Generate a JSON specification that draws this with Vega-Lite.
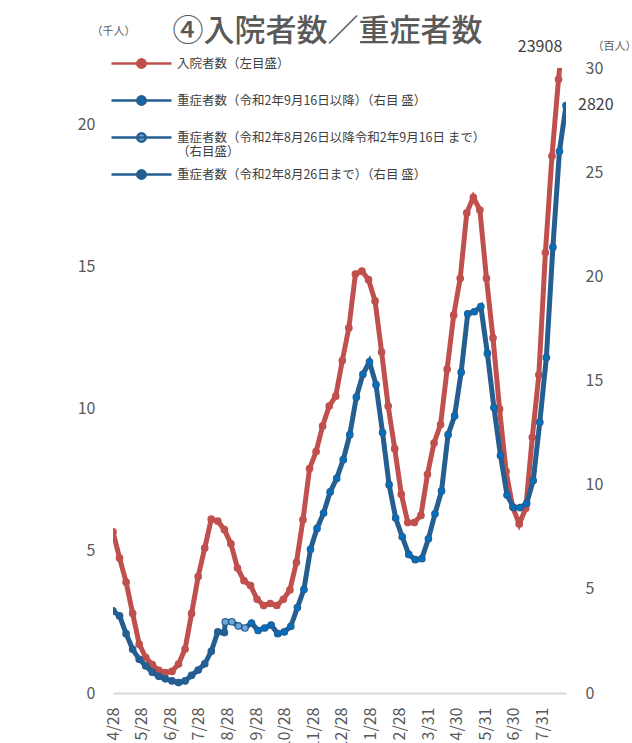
{
  "$schema": "https://vega.github.io/schema/vega-lite/v6.json",
  "width": 453,
  "height": 625,
  "autosize": {"type": "none"},
  "padding": {"left": 113, "top": 68, "right": 66, "bottom": 50},
  "background": "white",
  "title": {"text": "④入院者数／重症者数", "font": "Noto Sans CJK JP", "fontSize": 31, "fontWeight": 500, "color": "#595959", "anchor": "middle", "dx": -12, "offset": -23},
  "datasets": {
    "red": [
      {"date": "2020-04-28", "value": 5.67, "series": "入院者数（左目盛）"},
      {"date": "2020-05-05", "value": 4.75, "series": "入院者数（左目盛）"},
      {"date": "2020-05-12", "value": 3.9, "series": "入院者数（左目盛）"},
      {"date": "2020-05-19", "value": 2.8, "series": "入院者数（左目盛）"},
      {"date": "2020-05-26", "value": 1.72, "series": "入院者数（左目盛）"},
      {"date": "2020-06-02", "value": 1.25, "series": "入院者数（左目盛）"},
      {"date": "2020-06-09", "value": 1.0, "series": "入院者数（左目盛）"},
      {"date": "2020-06-16", "value": 0.8, "series": "入院者数（左目盛）"},
      {"date": "2020-06-23", "value": 0.72, "series": "入院者数（左目盛）"},
      {"date": "2020-06-30", "value": 0.76, "series": "入院者数（左目盛）"},
      {"date": "2020-07-07", "value": 1.02, "series": "入院者数（左目盛）"},
      {"date": "2020-07-14", "value": 1.55, "series": "入院者数（左目盛）"},
      {"date": "2020-07-21", "value": 2.8, "series": "入院者数（左目盛）"},
      {"date": "2020-07-28", "value": 4.1, "series": "入院者数（左目盛）"},
      {"date": "2020-08-04", "value": 5.1, "series": "入院者数（左目盛）"},
      {"date": "2020-08-11", "value": 6.12, "series": "入院者数（左目盛）"},
      {"date": "2020-08-18", "value": 6.05, "series": "入院者数（左目盛）"},
      {"date": "2020-08-25", "value": 5.75, "series": "入院者数（左目盛）"},
      {"date": "2020-09-01", "value": 5.25, "series": "入院者数（左目盛）"},
      {"date": "2020-09-08", "value": 4.4, "series": "入院者数（左目盛）"},
      {"date": "2020-09-15", "value": 3.95, "series": "入院者数（左目盛）"},
      {"date": "2020-09-22", "value": 3.78, "series": "入院者数（左目盛）"},
      {"date": "2020-09-29", "value": 3.3, "series": "入院者数（左目盛）"},
      {"date": "2020-10-06", "value": 3.08, "series": "入院者数（左目盛）"},
      {"date": "2020-10-13", "value": 3.15, "series": "入院者数（左目盛）"},
      {"date": "2020-10-20", "value": 3.08, "series": "入院者数（左目盛）"},
      {"date": "2020-10-27", "value": 3.3, "series": "入院者数（左目盛）"},
      {"date": "2020-11-03", "value": 3.63, "series": "入院者数（左目盛）"},
      {"date": "2020-11-10", "value": 4.6, "series": "入院者数（左目盛）"},
      {"date": "2020-11-17", "value": 6.1, "series": "入院者数（左目盛）"},
      {"date": "2020-11-24", "value": 7.9, "series": "入院者数（左目盛）"},
      {"date": "2020-12-01", "value": 8.5, "series": "入院者数（左目盛）"},
      {"date": "2020-12-08", "value": 9.4, "series": "入院者数（左目盛）"},
      {"date": "2020-12-15", "value": 10.1, "series": "入院者数（左目盛）"},
      {"date": "2020-12-22", "value": 10.45, "series": "入院者数（左目盛）"},
      {"date": "2020-12-29", "value": 11.7, "series": "入院者数（左目盛）"},
      {"date": "2021-01-05", "value": 12.85, "series": "入院者数（左目盛）"},
      {"date": "2021-01-12", "value": 14.75, "series": "入院者数（左目盛）"},
      {"date": "2021-01-19", "value": 14.85, "series": "入院者数（左目盛）"},
      {"date": "2021-01-26", "value": 14.55, "series": "入院者数（左目盛）"},
      {"date": "2021-02-02", "value": 13.8, "series": "入院者数（左目盛）"},
      {"date": "2021-02-09", "value": 12.0, "series": "入院者数（左目盛）"},
      {"date": "2021-02-16", "value": 10.1, "series": "入院者数（左目盛）"},
      {"date": "2021-02-23", "value": 8.6, "series": "入院者数（左目盛）"},
      {"date": "2021-03-02", "value": 7.0, "series": "入院者数（左目盛）"},
      {"date": "2021-03-09", "value": 6.0, "series": "入院者数（左目盛）"},
      {"date": "2021-03-16", "value": 6.0, "series": "入院者数（左目盛）"},
      {"date": "2021-03-23", "value": 6.25, "series": "入院者数（左目盛）"},
      {"date": "2021-03-30", "value": 7.7, "series": "入院者数（左目盛）"},
      {"date": "2021-04-06", "value": 8.8, "series": "入院者数（左目盛）"},
      {"date": "2021-04-13", "value": 9.45, "series": "入院者数（左目盛）"},
      {"date": "2021-04-20", "value": 11.4, "series": "入院者数（左目盛）"},
      {"date": "2021-04-27", "value": 13.3, "series": "入院者数（左目盛）"},
      {"date": "2021-05-04", "value": 14.6, "series": "入院者数（左目盛）"},
      {"date": "2021-05-11", "value": 16.9, "series": "入院者数（左目盛）"},
      {"date": "2021-05-18", "value": 17.45, "series": "入院者数（左目盛）"},
      {"date": "2021-05-25", "value": 17.0, "series": "入院者数（左目盛）"},
      {"date": "2021-06-01", "value": 14.6, "series": "入院者数（左目盛）"},
      {"date": "2021-06-08", "value": 12.5, "series": "入院者数（左目盛）"},
      {"date": "2021-06-15", "value": 10.0, "series": "入院者数（左目盛）"},
      {"date": "2021-06-22", "value": 7.8, "series": "入院者数（左目盛）"},
      {"date": "2021-06-29", "value": 6.55, "series": "入院者数（左目盛）"},
      {"date": "2021-07-06", "value": 5.95, "series": "入院者数（左目盛）"},
      {"date": "2021-07-13", "value": 6.5, "series": "入院者数（左目盛）"},
      {"date": "2021-07-20", "value": 9.0, "series": "入院者数（左目盛）"},
      {"date": "2021-07-27", "value": 11.2, "series": "入院者数（左目盛）"},
      {"date": "2021-08-03", "value": 15.5, "series": "入院者数（左目盛）"},
      {"date": "2021-08-10", "value": 18.9, "series": "入院者数（左目盛）"},
      {"date": "2021-08-17", "value": 21.6, "series": "入院者数（左目盛）"},
      {"date": "2021-08-24", "value": 23.908, "series": "入院者数（左目盛）"}
    ],
    "blue": [
      {"date": "2020-04-28", "value": 3.94, "series": "重症者数（令和2年8月26日まで）（右目 盛）"},
      {"date": "2020-05-05", "value": 3.7, "series": "重症者数（令和2年8月26日まで）（右目 盛）"},
      {"date": "2020-05-12", "value": 2.85, "series": "重症者数（令和2年8月26日まで）（右目 盛）"},
      {"date": "2020-05-19", "value": 2.1, "series": "重症者数（令和2年8月26日まで）（右目 盛）"},
      {"date": "2020-05-26", "value": 1.62, "series": "重症者数（令和2年8月26日まで）（右目 盛）"},
      {"date": "2020-06-02", "value": 1.3, "series": "重症者数（令和2年8月26日まで）（右目 盛）"},
      {"date": "2020-06-09", "value": 1.0, "series": "重症者数（令和2年8月26日まで）（右目 盛）"},
      {"date": "2020-06-16", "value": 0.8, "series": "重症者数（令和2年8月26日まで）（右目 盛）"},
      {"date": "2020-06-23", "value": 0.68, "series": "重症者数（令和2年8月26日まで）（右目 盛）"},
      {"date": "2020-06-30", "value": 0.58, "series": "重症者数（令和2年8月26日まで）（右目 盛）"},
      {"date": "2020-07-07", "value": 0.5, "series": "重症者数（令和2年8月26日まで）（右目 盛）"},
      {"date": "2020-07-14", "value": 0.58, "series": "重症者数（令和2年8月26日まで）（右目 盛）"},
      {"date": "2020-07-21", "value": 0.85, "series": "重症者数（令和2年8月26日まで）（右目 盛）"},
      {"date": "2020-07-28", "value": 1.1, "series": "重症者数（令和2年8月26日まで）（右目 盛）"},
      {"date": "2020-08-04", "value": 1.4, "series": "重症者数（令和2年8月26日まで）（右目 盛）"},
      {"date": "2020-08-11", "value": 2.0, "series": "重症者数（令和2年8月26日まで）（右目 盛）"},
      {"date": "2020-08-18", "value": 2.93, "series": "重症者数（令和2年8月26日まで）（右目 盛）"},
      {"date": "2020-08-25", "value": 2.9, "series": "重症者数（令和2年8月26日まで）（右目 盛）"},
      {"date": "2020-08-26", "value": 3.41, "series": "重症者数（令和2年8月26日以降令和2年9月16日 まで）（右目盛）"},
      {"date": "2020-09-02", "value": 3.42, "series": "重症者数（令和2年8月26日以降令和2年9月16日 まで）（右目盛）"},
      {"date": "2020-09-09", "value": 3.22, "series": "重症者数（令和2年8月26日以降令和2年9月16日 まで）（右目盛）"},
      {"date": "2020-09-16", "value": 3.12, "series": "重症者数（令和2年8月26日以降令和2年9月16日 まで）（右目盛）"},
      {"date": "2020-09-23", "value": 3.36, "series": "重症者数（令和2年9月16日以降）（右目 盛）"},
      {"date": "2020-09-30", "value": 3.0, "series": "重症者数（令和2年9月16日以降）（右目 盛）"},
      {"date": "2020-10-07", "value": 3.12, "series": "重症者数（令和2年9月16日以降）（右目 盛）"},
      {"date": "2020-10-14", "value": 3.26, "series": "重症者数（令和2年9月16日以降）（右目 盛）"},
      {"date": "2020-10-21", "value": 2.85, "series": "重症者数（令和2年9月16日以降）（右目 盛）"},
      {"date": "2020-10-28", "value": 2.93, "series": "重症者数（令和2年9月16日以降）（右目 盛）"},
      {"date": "2020-11-04", "value": 3.2, "series": "重症者数（令和2年9月16日以降）（右目 盛）"},
      {"date": "2020-11-11", "value": 4.1, "series": "重症者数（令和2年9月16日以降）（右目 盛）"},
      {"date": "2020-11-18", "value": 4.97, "series": "重症者数（令和2年9月16日以降）（右目 盛）"},
      {"date": "2020-11-25", "value": 6.9, "series": "重症者数（令和2年9月16日以降）（右目 盛）"},
      {"date": "2020-12-02", "value": 7.9, "series": "重症者数（令和2年9月16日以降）（右目 盛）"},
      {"date": "2020-12-09", "value": 8.64, "series": "重症者数（令和2年9月16日以降）（右目 盛）"},
      {"date": "2020-12-16", "value": 9.65, "series": "重症者数（令和2年9月16日以降）（右目 盛）"},
      {"date": "2020-12-23", "value": 10.3, "series": "重症者数（令和2年9月16日以降）（右目 盛）"},
      {"date": "2020-12-30", "value": 11.2, "series": "重症者数（令和2年9月16日以降）（右目 盛）"},
      {"date": "2021-01-06", "value": 12.4, "series": "重症者数（令和2年9月16日以降）（右目 盛）"},
      {"date": "2021-01-13", "value": 14.2, "series": "重症者数（令和2年9月16日以降）（右目 盛）"},
      {"date": "2021-01-20", "value": 15.3, "series": "重症者数（令和2年9月16日以降）（右目 盛）"},
      {"date": "2021-01-27", "value": 15.9, "series": "重症者数（令和2年9月16日以降）（右目 盛）"},
      {"date": "2021-02-03", "value": 14.8, "series": "重症者数（令和2年9月16日以降）（右目 盛）"},
      {"date": "2021-02-10", "value": 12.5, "series": "重症者数（令和2年9月16日以降）（右目 盛）"},
      {"date": "2021-02-17", "value": 10.0, "series": "重症者数（令和2年9月16日以降）（右目 盛）"},
      {"date": "2021-02-24", "value": 8.4, "series": "重症者数（令和2年9月16日以降）（右目 盛）"},
      {"date": "2021-03-03", "value": 7.5, "series": "重症者数（令和2年9月16日以降）（右目 盛）"},
      {"date": "2021-03-10", "value": 6.65, "series": "重症者数（令和2年9月16日以降）（右目 盛）"},
      {"date": "2021-03-17", "value": 6.4, "series": "重症者数（令和2年9月16日以降）（右目 盛）"},
      {"date": "2021-03-24", "value": 6.45, "series": "重症者数（令和2年9月16日以降）（右目 盛）"},
      {"date": "2021-03-31", "value": 7.4, "series": "重症者数（令和2年9月16日以降）（右目 盛）"},
      {"date": "2021-04-07", "value": 8.6, "series": "重症者数（令和2年9月16日以降）（右目 盛）"},
      {"date": "2021-04-14", "value": 9.7, "series": "重症者数（令和2年9月16日以降）（右目 盛）"},
      {"date": "2021-04-21", "value": 12.4, "series": "重症者数（令和2年9月16日以降）（右目 盛）"},
      {"date": "2021-04-28", "value": 13.3, "series": "重症者数（令和2年9月16日以降）（右目 盛）"},
      {"date": "2021-05-05", "value": 15.4, "series": "重症者数（令和2年9月16日以降）（右目 盛）"},
      {"date": "2021-05-12", "value": 18.2, "series": "重症者数（令和2年9月16日以降）（右目 盛）"},
      {"date": "2021-05-19", "value": 18.3, "series": "重症者数（令和2年9月16日以降）（右目 盛）"},
      {"date": "2021-05-26", "value": 18.55, "series": "重症者数（令和2年9月16日以降）（右目 盛）"},
      {"date": "2021-06-02", "value": 16.3, "series": "重症者数（令和2年9月16日以降）（右目 盛）"},
      {"date": "2021-06-09", "value": 13.7, "series": "重症者数（令和2年9月16日以降）（右目 盛）"},
      {"date": "2021-06-16", "value": 11.4, "series": "重症者数（令和2年9月16日以降）（右目 盛）"},
      {"date": "2021-06-23", "value": 9.5, "series": "重症者数（令和2年9月16日以降）（右目 盛）"},
      {"date": "2021-06-30", "value": 8.9, "series": "重症者数（令和2年9月16日以降）（右目 盛）"},
      {"date": "2021-07-07", "value": 8.9, "series": "重症者数（令和2年9月16日以降）（右目 盛）"},
      {"date": "2021-07-14", "value": 9.1, "series": "重症者数（令和2年9月16日以降）（右目 盛）"},
      {"date": "2021-07-21", "value": 10.2, "series": "重症者数（令和2年9月16日以降）（右目 盛）"},
      {"date": "2021-07-28", "value": 13.0, "series": "重症者数（令和2年9月16日以降）（右目 盛）"},
      {"date": "2021-08-04", "value": 16.1, "series": "重症者数（令和2年9月16日以降）（右目 盛）"},
      {"date": "2021-08-11", "value": 21.4, "series": "重症者数（令和2年9月16日以降）（右目 盛）"},
      {"date": "2021-08-18", "value": 26.0, "series": "重症者数（令和2年9月16日以降）（右目 盛）"},
      {"date": "2021-08-25", "value": 28.2, "series": "重症者数（令和2年9月16日以降）（右目 盛）"}
    ]
  },
  "encoding": {
    "x": {
      "field": "date",
      "type": "temporal",
      "scale": {"type": "utc", "domain": [{"year": 2020, "month": 4, "date": 28, "utc": true}, {"year": 2021, "month": 8, "date": 25, "utc": true}]},
      "axis": {
        "title": null,
        "values": [
          {"year": 2020, "month": 4, "date": 28, "utc": true},
          {"year": 2020, "month": 5, "date": 28, "utc": true},
          {"year": 2020, "month": 6, "date": 28, "utc": true},
          {"year": 2020, "month": 7, "date": 28, "utc": true},
          {"year": 2020, "month": 8, "date": 28, "utc": true},
          {"year": 2020, "month": 9, "date": 28, "utc": true},
          {"year": 2020, "month": 10, "date": 28, "utc": true},
          {"year": 2020, "month": 11, "date": 28, "utc": true},
          {"year": 2020, "month": 12, "date": 28, "utc": true},
          {"year": 2021, "month": 1, "date": 28, "utc": true},
          {"year": 2021, "month": 2, "date": 28, "utc": true},
          {"year": 2021, "month": 3, "date": 31, "utc": true},
          {"year": 2021, "month": 4, "date": 30, "utc": true},
          {"year": 2021, "month": 5, "date": 31, "utc": true},
          {"year": 2021, "month": 6, "date": 30, "utc": true},
          {"year": 2021, "month": 7, "date": 31, "utc": true}
        ],
        "labelExpr": "utcFormat(datum.value, '%-m/%-d')",
        "labelAngle": 270,
        "labelFont": "Noto Sans CJK JP",
        "labelFontSize": 16,
        "labelColor": "#595959",
        "labelPadding": 14,
        "labelOverlap": false,
        "labelFlush": false,
        "labelBound": false,
        "ticks": false,
        "grid": false,
        "domainColor": "#D9D9D9",
        "domainWidth": 2
      }
    }
  },
  "layer": [
    {
      "data": {"name": "red"},
      "encoding": {
        "y": {
          "field": "value",
          "type": "quantitative",
          "scale": {"domain": [0, 22], "nice": false, "zero": true},
          "axis": {"orient": "left", "values": [0, 5, 10, 15, 20], "title": "（千人）", "titleAngle": 0, "titleX": 0, "titleY": -37, "titleAlign": "center", "titleBaseline": "middle", "titleFont": "Noto Sans CJK JP", "titleFontSize": 11, "titleFontWeight": "normal", "titleColor": "#595959", "domain": false, "ticks": false, "grid": false, "labelPadding": 18, "labelFont": "Noto Sans CJK JP", "labelFontSize": 16, "labelColor": "#595959"}
        }
      },
      "layer": [
        {"mark": {"type": "line", "color": "#C0504D", "strokeWidth": 5, "clip": true}},
        {
          "mark": {"type": "circle", "size": 42, "opacity": 1, "strokeWidth": 1.2, "clip": true},
          "encoding": {
            "fill": {"field": "series", "type": "nominal",
              "scale": {"domain": ["入院者数（左目盛）", "重症者数（令和2年9月16日以降）（右目 盛）", "重症者数（令和2年8月26日以降令和2年9月16日 まで）（右目盛）", "重症者数（令和2年8月26日まで）（右目 盛）"], "range": ["#C0504D", "#0070C0", "#6FA8DC", "#255E91"]},
              "legend": {"title": null, "orient": "none", "legendX": -3, "legendY": -16, "symbolType": "M-3,0L3,0M0.42,0A0.42,0.42,0,1,1,-0.42,0A0.42,0.42,0,1,1,0.42,0Z", "symbolSize": 400, "symbolOffset": 20, "symbolStrokeWidth": 2.5, "labelFont": "Noto Sans CJK JP", "labelFontSize": 12.5, "labelColor": "#404040", "labelOffset": 24, "rowPadding": 4, "labelLimit": 600,
                "labelExpr": "datum.label == '重症者数（令和2年8月26日以降令和2年9月16日 まで）（右目盛）' ? ['重症者数（令和2年8月26日以降令和2年9月16日 まで）', '（右目盛）'] : [datum.label, '']"}
            },
            "stroke": {"field": "series", "type": "nominal",
              "scale": {"domain": ["入院者数（左目盛）", "重症者数（令和2年9月16日以降）（右目 盛）", "重症者数（令和2年8月26日以降令和2年9月16日 まで）（右目盛）", "重症者数（令和2年8月26日まで）（右目 盛）"], "range": ["#C0504D", "#255E91", "#255E91", "#255E91"]},
              "legend": {"title": null, "orient": "none", "legendX": -3, "legendY": -16, "symbolType": "M-3,0L3,0M0.42,0A0.42,0.42,0,1,1,-0.42,0A0.42,0.42,0,1,1,0.42,0Z", "symbolSize": 400, "symbolOffset": 20, "symbolStrokeWidth": 2.5, "labelFont": "Noto Sans CJK JP", "labelFontSize": 12.5, "labelColor": "#404040", "labelOffset": 24, "rowPadding": 4, "labelLimit": 600,
                "labelExpr": "datum.label == '重症者数（令和2年8月26日以降令和2年9月16日 まで）（右目盛）' ? ['重症者数（令和2年8月26日以降令和2年9月16日 まで）', '（右目盛）'] : [datum.label, '']"}
            }
          }
        },
        {
          "transform": [{"filter": "datum.value > 23"}, {"calculate": "format(datum.value * 1000, 'd')", "as": "lbl"}],
          "mark": {"type": "text", "dx": -25, "dy": 33, "align": "center", "baseline": "middle", "font": "Noto Sans CJK JP", "fontSize": 16, "color": "#404040"},
          "encoding": {"text": {"field": "lbl", "type": "nominal"}}
        }
      ]
    },
    {
      "data": {"name": "blue"},
      "encoding": {
        "y": {
          "field": "value",
          "type": "quantitative",
          "scale": {"domain": [0, 30], "nice": false, "zero": true},
          "axis": {"orient": "right", "values": [0, 5, 10, 15, 20, 25, 30], "title": "（百人）", "titleAngle": 0, "titleX": 48, "titleY": -22, "titleAlign": "center", "titleBaseline": "middle", "titleFont": "Noto Sans CJK JP", "titleFontSize": 11, "titleFontWeight": "normal", "titleColor": "#595959", "domain": false, "ticks": false, "grid": false, "labelPadding": 19, "labelFont": "Noto Sans CJK JP", "labelFontSize": 16, "labelColor": "#595959"}
        }
      },
      "layer": [
        {"mark": {"type": "line", "color": "#255E91", "strokeWidth": 5, "clip": true}},
        {
          "mark": {"type": "circle", "size": 42, "opacity": 1, "strokeWidth": 1.2, "clip": true},
          "encoding": {
            "fill": {"field": "series", "type": "nominal",
              "scale": {"domain": ["入院者数（左目盛）", "重症者数（令和2年9月16日以降）（右目 盛）", "重症者数（令和2年8月26日以降令和2年9月16日 まで）（右目盛）", "重症者数（令和2年8月26日まで）（右目 盛）"], "range": ["#C0504D", "#0070C0", "#6FA8DC", "#255E91"]},
              "legend": {"title": null, "orient": "none", "legendX": -3, "legendY": -16, "symbolType": "M-3,0L3,0M0.42,0A0.42,0.42,0,1,1,-0.42,0A0.42,0.42,0,1,1,0.42,0Z", "symbolSize": 400, "symbolOffset": 20, "symbolStrokeWidth": 2.5, "labelFont": "Noto Sans CJK JP", "labelFontSize": 12.5, "labelColor": "#404040", "labelOffset": 24, "rowPadding": 4, "labelLimit": 600,
                "labelExpr": "datum.label == '重症者数（令和2年8月26日以降令和2年9月16日 まで）（右目盛）' ? ['重症者数（令和2年8月26日以降令和2年9月16日 まで）', '（右目盛）'] : [datum.label, '']"}
            },
            "stroke": {"field": "series", "type": "nominal",
              "scale": {"domain": ["入院者数（左目盛）", "重症者数（令和2年9月16日以降）（右目 盛）", "重症者数（令和2年8月26日以降令和2年9月16日 まで）（右目盛）", "重症者数（令和2年8月26日まで）（右目 盛）"], "range": ["#C0504D", "#255E91", "#255E91", "#255E91"]},
              "legend": {"title": null, "orient": "none", "legendX": -3, "legendY": -16, "symbolType": "M-3,0L3,0M0.42,0A0.42,0.42,0,1,1,-0.42,0A0.42,0.42,0,1,1,0.42,0Z", "symbolSize": 400, "symbolOffset": 20, "symbolStrokeWidth": 2.5, "labelFont": "Noto Sans CJK JP", "labelFontSize": 12.5, "labelColor": "#404040", "labelOffset": 24, "rowPadding": 4, "labelLimit": 600,
                "labelExpr": "datum.label == '重症者数（令和2年8月26日以降令和2年9月16日 まで）（右目盛）' ? ['重症者数（令和2年8月26日以降令和2年9月16日 まで）', '（右目盛）'] : [datum.label, '']"}
            }
          }
        },
        {
          "transform": [{"filter": "datum.value > 28"}, {"calculate": "format(datum.value * 100, 'd')", "as": "lbl"}],
          "mark": {"type": "text", "dx": 12, "dy": -1, "align": "left", "baseline": "middle", "font": "Noto Sans CJK JP", "fontSize": 16, "color": "#404040"},
          "encoding": {"text": {"field": "lbl", "type": "nominal"}}
        }
      ]
    }
  ],
  "resolve": {"scale": {"y": "independent"}},
  "config": {
    "view": {"stroke": null},
    "font": "Noto Sans CJK JP"
  }
}
